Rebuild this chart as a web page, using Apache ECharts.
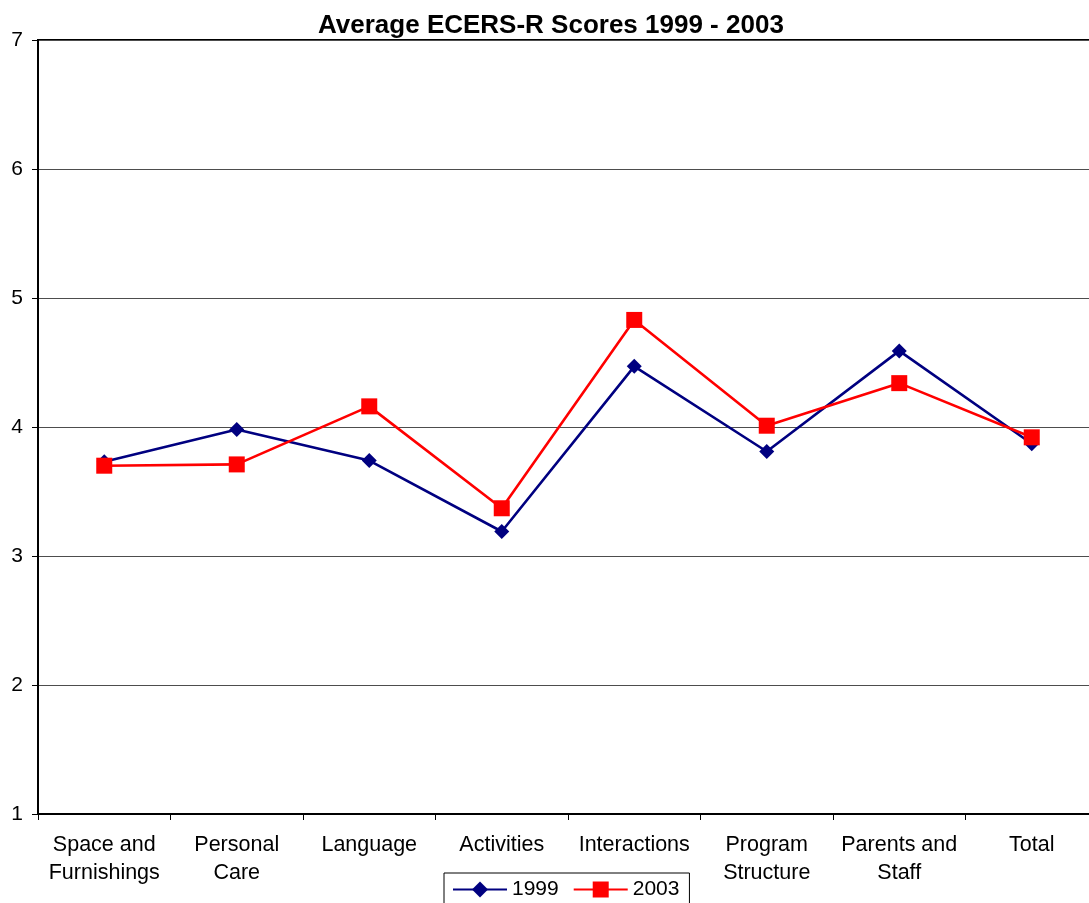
<!DOCTYPE html>
<html>
<head>
<meta charset="utf-8">
<style>
  html, body { margin: 0; padding: 0; background: #fff; overflow: hidden; }
  #chart { width: 1104px; height: 903px; }
</style>
<script src="https://cdn.jsdelivr.net/npm/echarts@6/dist/echarts.min.js"></script>
</head>
<body>
<div id="chart"></div>
<script>
// ECERS-R subscale averages
const categories = [
  'Space and\nFurnishings', 'Personal\nCare', 'Language', 'Activities',
  'Interactions', 'Program\nStructure', 'Parents and\nStaff', 'Total'
];
const scores1999 = [3.73, 3.98, 3.74, 3.19, 4.47, 3.81, 4.59, 3.87];
const scores2003 = [3.70, 3.71, 4.16, 3.37, 4.83, 4.01, 4.34, 3.92];
const yTicks = [1, 2, 3, 4, 5, 6, 7];

const FONT = '"Liberation Sans", Arial, sans-serif';

const chart = echarts.init(document.getElementById('chart'), null, { renderer: 'canvas' });

chart.setOption({
  animation: false,
  backgroundColor: '#ffffff',
  title: {
    text: 'Average ECERS-R Scores 1999 - 2003',
    left: 313,
    top: 8,
    textStyle: { fontFamily: FONT, fontSize: 26, fontWeight: 'bold', color: '#000' }
  },
  grid: {
    left: 38, top: 40, width: 1060, height: 774,
    show: true, borderColor: '#000', borderWidth: 2, backgroundColor: 'transparent'
  },
  legend: {
    data: ['1999', '2003'],
    left: 444, top: 873,
    padding: [6, 10, 12, 8],
    borderColor: '#000', borderWidth: 1,
    itemWidth: 54, itemHeight: 20, itemGap: 14,
    textStyle: { fontFamily: FONT, fontSize: 21, color: '#000' }
  },
  xAxis: {
    type: 'category',
    data: categories,
    boundaryGap: true,
    axisLine: { lineStyle: { color: '#000', width: 2 } },
    axisTick: { show: true, alignWithLabel: false, length: 6, lineStyle: { color: '#000', width: 1 } },
    axisLabel: {
      interval: 0, margin: 17, lineHeight: 28,
      fontFamily: FONT, fontSize: 21.5, color: '#000'
    },
    splitLine: { show: false }
  },
  yAxis: {
    type: 'value',
    min: yTicks[0], max: yTicks[yTicks.length - 1], interval: 1,
    axisLine: { show: true, lineStyle: { color: '#000', width: 2 } },
    axisTick: { show: true, length: 6, lineStyle: { color: '#000', width: 1 } },
    axisLabel: { margin: 15, fontFamily: FONT, fontSize: 21, color: '#000' },
    splitLine: { show: true, lineStyle: { color: '#4d4d4d', width: 1 } }
  },
  series: [
    {
      name: '1999', type: 'line', data: scores1999,
      symbol: 'diamond', symbolSize: 15,
      lineStyle: { color: '#000080', width: 2.6 },
      itemStyle: { color: '#000080' },
      z: 2
    },
    {
      name: '2003', type: 'line', data: scores2003,
      symbol: 'rect', symbolSize: 16,
      lineStyle: { color: '#ff0000', width: 2.6 },
      itemStyle: { color: '#ff0000' },
      z: 3
    }
  ]
});
</script>
</body>
</html>
